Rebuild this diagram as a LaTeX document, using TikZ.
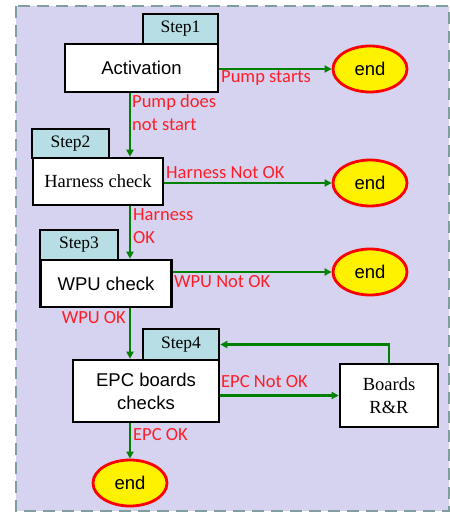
\documentclass[tikz,border=0pt]{standalone}
\usepackage{fontspec}
\setmainfont{Liberation Serif}
\newfontfamily\arialf{Liberation Sans}
\newfontfamily\labf{Carlito}
\usetikzlibrary{arrows.meta,shapes.geometric}
\definecolor{bgc}{RGB}{213,211,239}
\definecolor{bordc}{RGB}{128,158,158}
\definecolor{tabc}{RGB}{183,222,228}
\definecolor{grn}{RGB}{0,128,0}
\definecolor{lab}{RGB}{255,30,40}
\begin{document}
\begin{tikzpicture}[x=1pt,y=-1pt,
  box/.style={draw=black,line width=2.6pt,fill=white,rectangle,inner sep=0pt},
  tab/.style={draw=black,line width=2.6pt,fill=tabc,rectangle,inner sep=0pt,font=\fontsize{17.5}{19}\selectfont},
  sbox/.style={box,font=\arialf\fontsize{18.5}{23}\selectfont,align=center},
  tbox/.style={box,font=\fontsize{18.5}{23}\selectfont,align=center},
  endn/.style={ellipse,draw=red,line width=2.8pt,fill=yellow,minimum width=74pt,minimum height=46pt,inner sep=0pt,font=\arialf\fontsize{18.5}{22}\selectfont},
  lbl/.style={inner sep=0pt,text=lab,font=\labf\fontsize{18.5}{23}\selectfont,align=left},
  conn/.style={draw=grn,line width=2.2pt,-{Triangle[length=7pt,width=7pt]}}]
\useasboundingbox (0,0) rectangle (450,512);
\fill[bgc] (16,6) rectangle (449,511);
\draw[bordc,line width=2.6pt,dash pattern=on 12pt off 7pt] (16,6) rectangle (449,511);
% step 1
\node[tab,minimum width=75pt,minimum height=30pt] (s1) at (180.5,29) {Step1};
\node[sbox,minimum width=153pt,minimum height=48pt] (act) at (141.5,68) {Activation};
\node[endn] (e1) at (370,69) {end};
% step 2
\node[tab,minimum width=77pt,minimum height=29pt] (s2) at (70.5,143.5) {Step2};
\node[tbox,minimum width=130pt,minimum height=47pt] (harn) at (98,181.5) {Harness check};
\node[endn] (e2) at (370,183) {end};
% step 3
\node[tab,minimum width=78pt,minimum height=30pt] (s3) at (79,245) {Step3};
\node[sbox,minimum width=131pt,minimum height=47pt] (wpu) at (106,283.5) {WPU check};
\node[endn] (e3) at (370,272) {end};
% step 4
\node[tab,minimum width=76pt,minimum height=31pt] (s4) at (181,344.5) {Step4};
\node[sbox,minimum width=146pt,minimum height=62pt] (epc) at (146,391) {EPC boards\\checks};
\node[tbox,minimum width=98pt,minimum height=63pt] (bor) at (389,395.5) {Boards\\R\&R};
\node[endn] (e4) at (130,483) {end};
\coordinate (col) at (130,0);
% connectors
\draw[conn] (act.east |- e1.west) -- (e1.west);
\draw[conn] (harn.east |- e2.west) -- (e2.west);
\draw[conn] (wpu.east |- e3.west) -- (e3.west);
\draw[conn] (epc.east |- bor.west) -- (bor.west);
\draw[conn] (act.south -| col) -- (harn.north -| col);
\draw[conn] (harn.south -| col) -- (wpu.north -| col);
\draw[conn] (wpu.south -| col) -- (epc.north -| col);
\draw[conn] (epc.south -| e4.north) -- (e4.north);
\draw[conn] (bor.north) |- (s4.east);
% labels
\node[lbl,anchor=west] (l1) at (221,78) {Pump starts};
\node[lbl,anchor=west] (l2) at (132,112.5) {Pump does\\not start};
\node[lbl,anchor=west] (l3) at (166,173) {Harness Not OK};
\node[lbl,anchor=west] (l4) at (133,226.5) {Harness\\OK};
\node[lbl,anchor=west] (l5) at (174,282) {WPU Not OK};
\node[lbl,anchor=east] (l6) at (126,318) {WPU OK};
\node[lbl,anchor=west] (l7) at (221,382) {EPC Not OK};
\node[lbl,anchor=west] (l8) at (133,435) {EPC OK};
\end{tikzpicture}
\end{document}
